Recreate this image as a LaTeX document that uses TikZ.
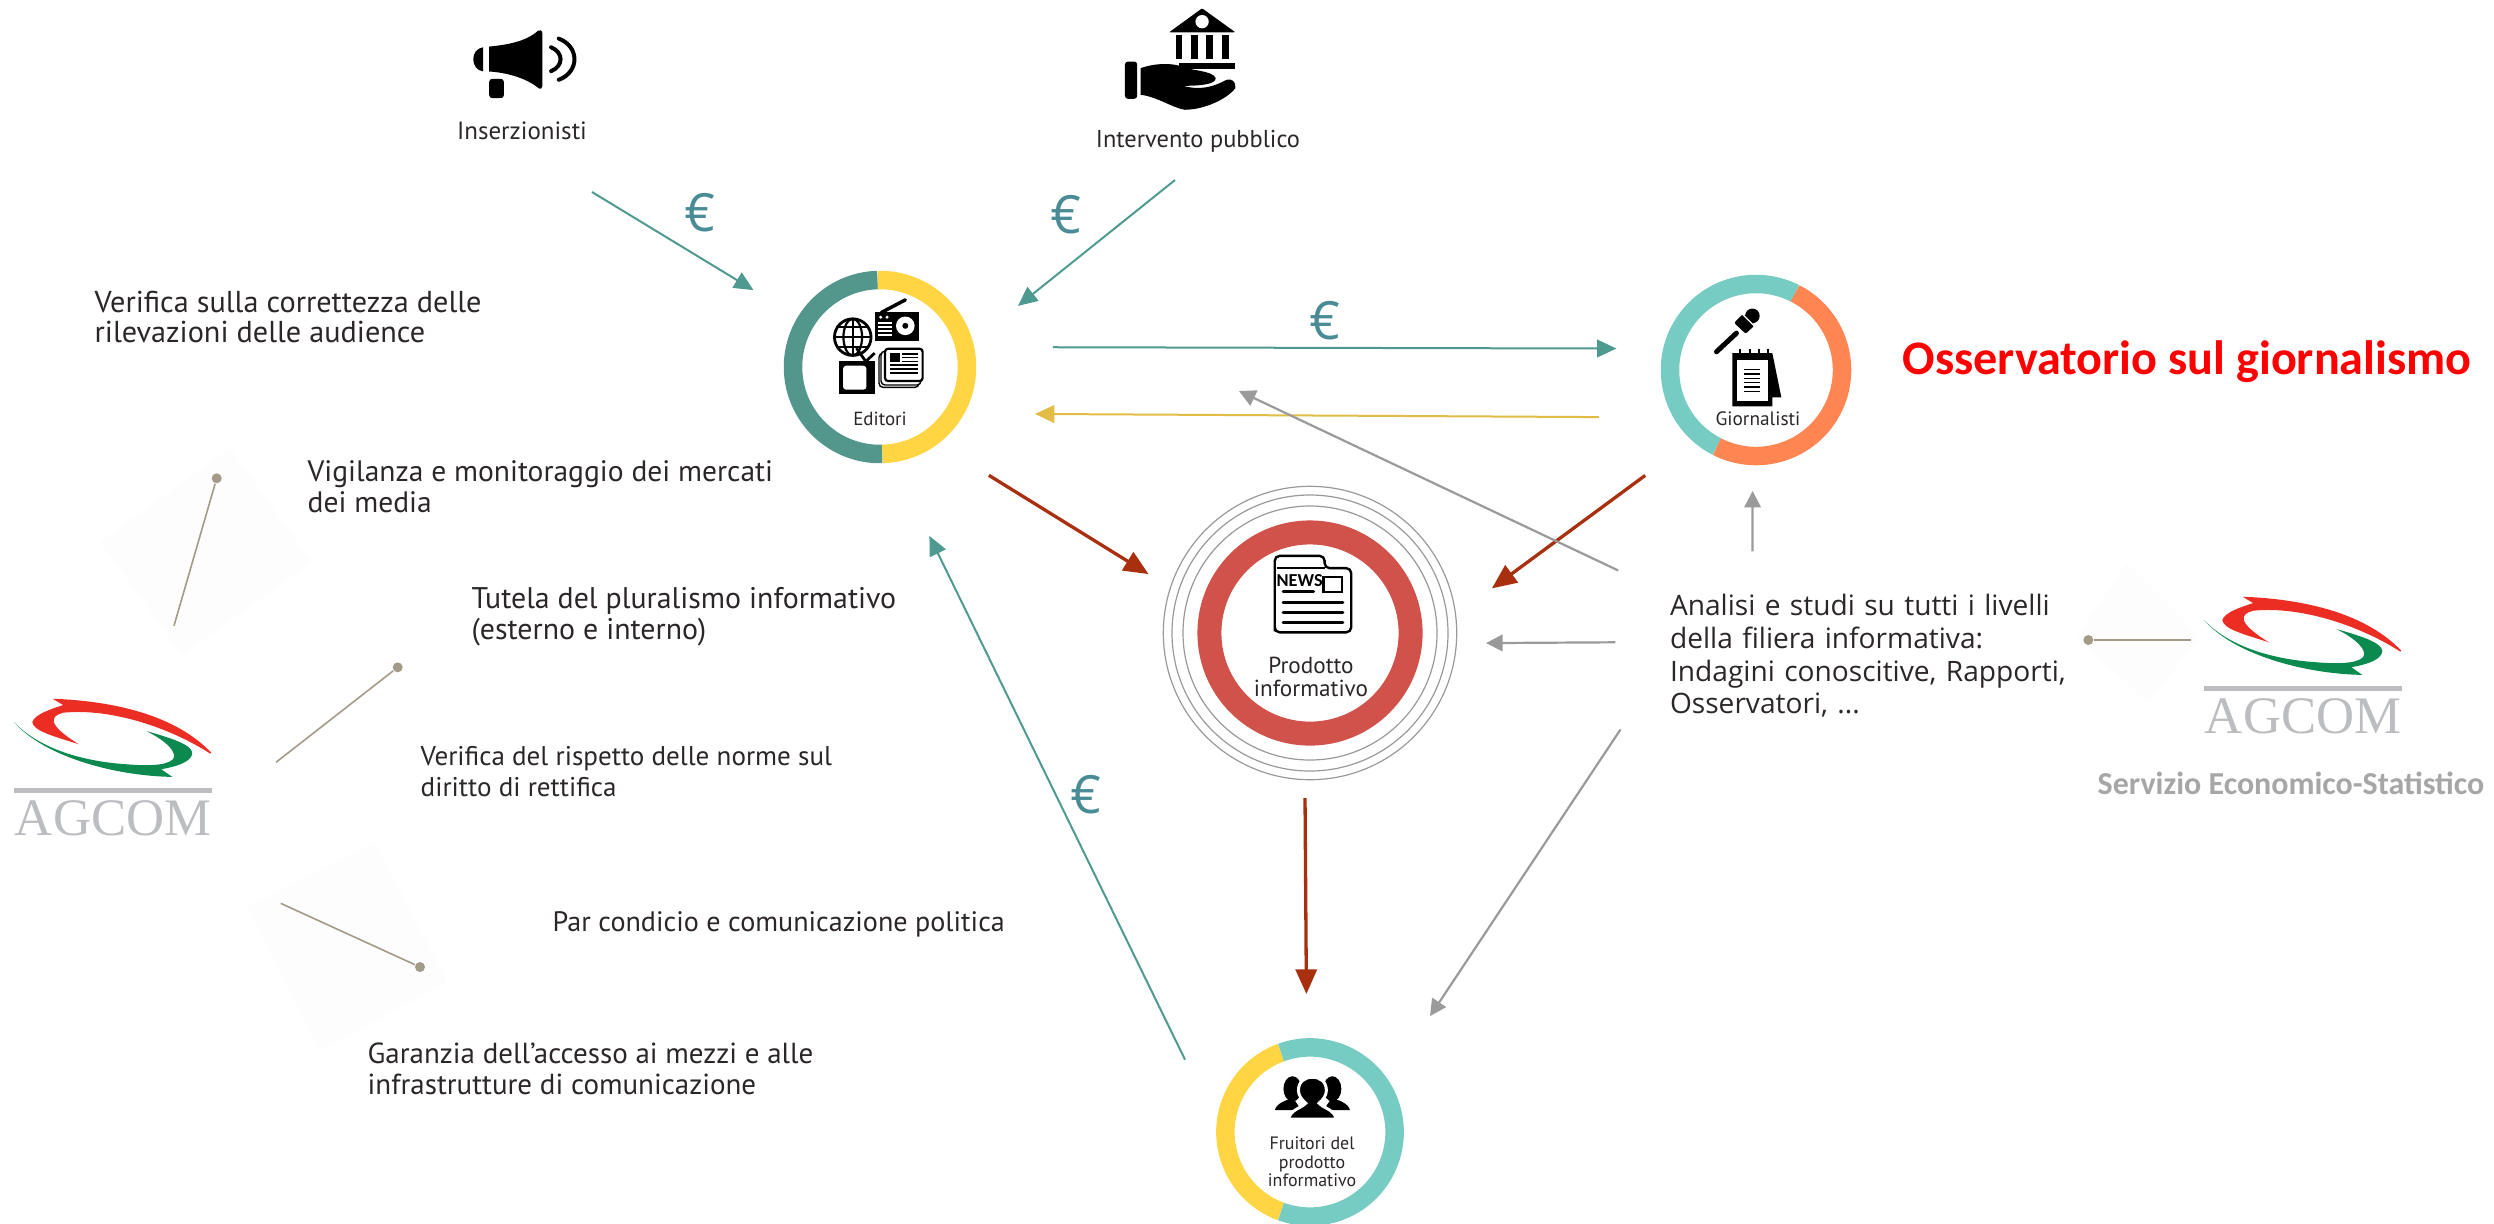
\documentclass[tikz,border=0pt]{standalone}
\usepackage{fontspec}
\usepackage{tikz}
\usetikzlibrary{arrows.meta}
\setmainfont{PT Sans}
\newfontfamily\calibrifont{Carlito}
\newfontfamily\segoefont{Open Sans}
\newfontfamily\agcomfont{Liberation Serif}

\definecolor{ringteal}{HTML}{52968C}
\definecolor{ringyellow}{HTML}{FFD544}
\definecolor{ringlight}{HTML}{76CBC2}
\definecolor{ringorange}{HTML}{FF8653}
\definecolor{ringred}{HTML}{D1524A}
\definecolor{arrowteal}{HTML}{4F9A90}
\definecolor{arrowyellow}{HTML}{E3BC45}
\definecolor{arrowred}{HTML}{A8300F}
\definecolor{arrowgray}{HTML}{9A9A9A}
\definecolor{euroblue}{HTML}{4A8C96}
\definecolor{leader}{HTML}{A39A87}
\definecolor{logogray}{HTML}{BBBDC0}
\definecolor{logored}{HTML}{EC2D24}
\definecolor{logogreen}{HTML}{0A8A4E}
\definecolor{bodytext}{HTML}{2B2628}
\definecolor{faint}{HTML}{FDFDFD}

% AGCOM logo, drawn on a 1/3 pixel grid
\tikzset{pics/agcomlogo/.style={code={
    \begin{scope}[x=0.003333cm,y=-0.003333cm]
        \fill[logored] (158,838) .. controls (350,845) and (530,890) .. (635,1000)
            -- (632,1003) .. controls (520,930) and (340,865) .. (190,880)
            .. controls (150,890) and (140,915) .. (237,975)
            .. controls (160,950) and (100,935) .. (97,908)
            .. controls (105,885) and (150,870) .. (190,857) -- cycle;
        \fill[logogreen] (42,908) .. controls (130,1010) and (340,1070) .. (518,1073)
            -- (485,1050) .. controls (540,1040) and (578,1025) .. (578,1000)
            .. controls (575,975) and (510,955) .. (440,935)
            .. controls (500,965) and (535,1000) .. (520,1020)
            .. controls (500,1040) and (440,1040) .. (380,1035)
            .. controls (230,1025) and (110,980) .. (42,908) -- cycle;
        \fill[logogray] (43,1105) rectangle (637,1120);
        \node[text=logogray,inner sep=0pt,font=\agcomfont\fontsize{15}{15}\selectfont] (-word) at (340,1197) {AGCOM};
    \end{scope}
}}}

\begin{document}
\begin{tikzpicture}
    \tikzstyle{ring}=[circle,inner sep=0pt,outer sep=0pt]
    \tikzstyle{band}=[line width=0.185cm]
    \tikzstyle{halo}=[draw=black!40,line width=0.012cm]
    \tikzstyle{tealarrow}=[-{Triangle[length=5.5pt,width=5pt]},draw=arrowteal,line width=0.02cm]
    \tikzstyle{yellowarrow}=[-{Triangle[length=5.5pt,width=5pt]},draw=arrowyellow,line width=0.02cm]
    \tikzstyle{redarrow}=[-{Triangle[length=7pt,width=6pt]},draw=arrowred,line width=0.033cm]
    \tikzstyle{grayarrow}=[-{Triangle[length=4.7pt,width=4.7pt]},draw=arrowgray,line width=0.022cm]
    \tikzstyle{euro}=[text=euroblue,inner sep=0pt,font=\segoefont\fontsize{15}{15}\selectfont]
    \tikzstyle{note}=[anchor=west,align=left,inner sep=0pt,text=bodytext]
    \tikzstyle{caption}=[align=center,inner sep=0pt,text=bodytext]
    \tikzstyle{pinhead}=[circle,fill=leader,minimum size=0.1cm,inner sep=0pt]
    \tikzstyle{pinline}=[draw=leader,line width=0.016cm]
    \tikzstyle{icon}=[x=0.003333cm,y=-0.003333cm]

    \useasboundingbox (0,0) rectangle (24.94,-12.23);

    % Draw the faint squares behind the pins
    \fill[faint] (2.30,-4.48) -- (3.12,-5.62) -- (1.82,-6.55) -- (1.00,-5.42) -- cycle;
    \fill[faint] (3.75,-8.42) -- (4.48,-9.82) -- (3.20,-10.50) -- (2.47,-9.08) -- cycle;
    \fill[faint] (21.27,-5.63) -- (22.00,-6.37) -- (21.48,-7.03) -- (20.77,-6.37) -- cycle;

    % Draw the ring nodes
    \node[ring,minimum size=1.92cm] (editori) at (8.80,-3.67) {};
    \node[ring,minimum size=1.90cm] (giornalisti) at (17.56,-3.70) {};
    \node[ring,minimum size=2.934cm] (prodotto) at (13.10,-6.33) {};
    \node[ring,minimum size=1.88cm] (fruitori) at (13.10,-11.32) {};

    \draw[band,ringteal] (editori.center) ++(91.6:0.87) arc[start angle=91.6,end angle=271.6,radius=0.87];
    \draw[band,ringyellow] (editori.center) ++(91.6:0.87) arc[start angle=91.6,end angle=-88.4,radius=0.87];
    \draw[band,ringlight] (giornalisti.center) ++(63:0.86) arc[start angle=63,end angle=243,radius=0.86];
    \draw[band,ringorange] (giornalisti.center) ++(63:0.86) arc[start angle=63,end angle=-117,radius=0.86];
    \draw[band,ringyellow] (fruitori.center) ++(110:0.846) arc[start angle=110,end angle=250,radius=0.846];
    \draw[band,ringlight] (fruitori.center) ++(110:0.846) arc[start angle=110,end angle=-110,radius=0.846];
    \draw[ringred,line width=0.24cm] (prodotto.center) circle[radius=1.006];
    \foreach \r in {1.467,1.38,1.27}
        \draw[halo] (prodotto.center) circle[radius=\r];

    % Annotate the ring nodes
    \node[caption,font=\fontsize{5.4}{6}\selectfont] (editorilabel) at (8.80,-4.19) {Editori};
    \node[caption,font=\fontsize{5.5}{6.5}\selectfont] (giornalistilabel) at (17.58,-4.19) {Giornalisti};
    \node[caption,font=\fontsize{6.6}{6.6}\selectfont] (prodottolabel) at (13.11,-6.77) {Prodotto\\informativo};
    \node[caption,font=\fontsize{5.1}{5.3}\selectfont] (fruitorilabel) at (13.12,-11.62) {Fruitori del\\prodotto\\informativo};

    % Draw the icon of the publishers
    \begin{scope}[shift={(7.40,-2.40)},icon]
        \draw[line width=0.028cm] (339,292) circle[radius=55];
        \draw[line width=0.022cm] (339,292) ellipse[x radius=28,y radius=55];
        \draw[line width=0.022cm] (339,237) -- (339,347) (287,292) -- (391,292) (296,262) -- (382,262) (296,322) -- (382,322);
        \fill (406,215) rectangle (537,303);
        \draw[line width=0.035cm,line cap=round] (425,218) -- (497,180);
        \fill[white] (497,258) circle[radius=28];
        \fill (497,258) circle[radius=9];
        \fill[white] (423,232) circle[radius=5] (442,232) circle[radius=5];
        \foreach \y in {247,259,271,283}
            \fill[white] (415,\y) rectangle (458,\y+6);
        \draw[line width=0.028cm] (350,325) -- (378,365) -- (405,340);
        \fill (298,363) rectangle (407,464);
        \fill[white,rounded corners=0.03cm] (310,378) rectangle (380,450);
        \draw[line width=0.014cm,fill=white,rounded corners=0.04cm] (418,340) rectangle (538,443);
        \draw[line width=0.014cm,fill=white,rounded corners=0.04cm] (424,334) rectangle (544,436);
        \draw[line width=0.022cm,fill=white,rounded corners=0.03cm] (436,327) rectangle (549,424);
        \fill (450,340) rectangle (481,366);
        \foreach \y in {343,354,365}
            \fill (487,\y-2) rectangle (535,\y+2);
        \foreach \y in {376,388,400}
            \fill (450,\y-2) rectangle (535,\y+2);
    \end{scope}

    % Draw the icon of the journalists
    \begin{scope}[shift={(16.20,-2.50)},icon]
        \draw[line width=0.05cm,line cap=round] (290,306) -- (350,250);
        \fill[rounded corners=0.02cm] (343,219) -- (370,192) -- (405,226) -- (378,252) -- cycle;
        \fill (398,198) circle[radius=22];
        \draw[white,line width=0.012cm] (367,192) -- (405,230);
        \fill (338,310) -- (458,310) -- (485,443) -- (458,443) -- (458,470) -- (338,470) -- cycle;
        \fill[white] (352,332) rectangle (445,455);
        \foreach \x in {362,390,418,445}
            \draw[line width=0.02cm] (\x,297) -- (\x,322);
        \foreach \y in {360,373,386,399,412,425}
            \fill (373,\y-2) rectangle (420,\y+2);
    \end{scope}

    % Draw the icon of the news product
    \begin{scope}[shift={(11.40,-4.80)},icon]
        \draw[line width=0.024cm,rounded corners=0.05cm] (405,440) -- (405,228) -- (555,228) -- (555,265) -- (635,265) -- (635,458) -- (405,458) -- cycle;
        \draw[line width=0.024cm] (412,264) -- (555,264);
        \node[inner sep=0pt,font=\calibrifont\bfseries\fontsize{5.2}{5.2}\selectfont] (newsword) at (480,301) {NEWS};
        \draw[line width=0.024cm] (552,292) rectangle (608,337);
        \draw[line width=0.03cm,line cap=round] (430,336) -- (522,336);
        \foreach \y in {367,397,428}
            \draw[line width=0.03cm,line cap=round] (430,\y) -- (610,\y);
    \end{scope}

    % Draw the icon of the audience
    \begin{scope}[shift={(11.90,-10.20)},icon]
        \foreach \m in {0,1} {
            \fill (368-60+120*\m,207) ellipse[x radius=27,y radius=38];
        }
        \fill (255,271) .. controls (260,250) and (290,240) .. (310,235) -- (335,271) -- cycle;
        \fill (481,271) .. controls (476,250) and (446,240) .. (426,235) -- (401,271) -- cycle;
        \draw[white,line width=0.03cm,fill=black] (297,298) .. controls (300,270) and (335,265) .. (348,250)
            .. controls (335,240) and (326,225) .. (326,212) .. controls (326,185) and (345,172) .. (368,172)
            .. controls (391,172) and (410,185) .. (410,212) .. controls (410,225) and (401,240) .. (388,250)
            .. controls (401,265) and (436,270) .. (439,298) -- cycle;
    \end{scope}

    % Draw the top icons and their labels
    \begin{scope}[shift={(4.40,0)},icon]
        \fill (148,140) .. controls (200,135) and (260,125) .. (295,92) .. controls (302,88) and (308,92) .. (308,100)
            -- (308,258) .. controls (308,266) and (302,270) .. (295,264) .. controls (260,235) and (200,218) .. (148,215) -- cycle;
        \fill (130,142) .. controls (110,145) and (100,160) .. (100,178) .. controls (100,196) and (110,212) .. (130,215) -- cycle;
        \fill[rounded corners=0.03cm] (148,237) rectangle (192,295);
        \draw[line width=0.04cm,line cap=round] (334,142) .. controls (372,158) and (372,198) .. (334,214);
        \draw[line width=0.04cm,line cap=round] (357,116) .. controls (420,140) and (420,216) .. (357,240);
    \end{scope}
    \node[caption,font=\fontsize{7.1}{7.6}\selectfont] (inserzionisti) at (5.22,-1.31) {Inserzionisti};

    \begin{scope}[shift={(10.90,0)},icon]
        \fill[rounded corners=0.01cm] (337,25) -- (437,97) -- (238,97) -- cycle;
        \fill[white] (337,65) circle[radius=20];
        \foreach \x in {258,305,350,397}
            \fill (\x,105) rectangle (\x+20,178);
        \fill (268,188) rectangle (435,207);
        \fill[rounded corners=0.03cm] (105,185) rectangle (142,297);
        \fill (152,205) .. controls (200,188) and (250,190) .. (275,200) .. controls (300,212) and (370,212) .. (378,235)
            .. controls (378,252) and (340,258) .. (280,258) .. controls (330,272) and (370,262) .. (410,240)
            .. controls (425,235) and (440,245) .. (437,265) .. controls (410,300) and (340,330) .. (285,330)
            .. controls (250,325) and (200,290) .. (152,285) -- cycle;
    \end{scope}
    \node[caption,font=\fontsize{6.95}{8.2}\selectfont] (intervento) at (11.98,-1.41) {Intervento pubblico};

    % Draw the text nodes
    \node[note,font=\fontsize{8.6}{8.8}\selectfont] (audience) at (0.94,-3.17) {Verifica sulla correttezza delle\\rilevazioni delle audience};
    \node[note,font=\fontsize{8.4}{8.8}\selectfont] (vigilanza) at (3.07,-4.87) {Vigilanza e monitoraggio dei mercati\\dei media};
    \node[note,font=\fontsize{8.5}{8.8}\selectfont] (tutela) at (4.71,-6.17) {Tutela del pluralismo informativo\\(esterno e interno)};
    \node[note,font=\fontsize{7.7}{8.8}\selectfont] (rettifica) at (4.20,-7.72) {Verifica del rispetto delle norme sul\\diritto di rettifica};
    \node[note,font=\fontsize{8.0}{8.8}\selectfont] (condicio) at (5.52,-9.24) {Par condicio e comunicazione politica};
    \node[note,font=\fontsize{8.25}{8.8}\selectfont] (garanzia) at (3.67,-10.69) {Garanzia dell'accesso ai mezzi e alle\\infrastrutture di comunicazione};
    \node[text width=4cm,minimum height=1.4cm,align=left,inner sep=0pt,text=bodytext,font=\segoefont\fontsize{8}{9.3}\selectfont] (analisi) at (18.70,-6.56)
        {Analisi e studi su tutti i livelli\\della filiera informativa:\\Indagini conoscitive, Rapporti,\\Osservatori, ...};
    \node[inner sep=0pt,text=red,font=\calibrifont\bfseries\fontsize{13.7}{15}\selectfont] (osservatorio) at (21.87,-3.62) {Osservatorio sul giornalismo};
    \node[inner sep=0pt,text=black!35,font=\calibrifont\bfseries\fontsize{9.1}{10.5}\selectfont] (servizio) at (22.91,-7.83) {Servizio Economico-Statistico};

    % Draw the logos
    \pic (agcomleft) at (0,-4.20) {agcomlogo};
    \pic (agcomright) at (21.90,-3.18) {agcomlogo};

    % Draw the pins
    \node[pinhead] (pinA) at (2.167,-4.783) {};
    \node[pinhead] (pinB) at (3.977,-6.673) {};
    \node[pinhead] (pinC) at (4.20,-9.67) {};
    \node[pinhead] (pinD) at (20.883,-6.40) {};
    \coordinate (footA) at (1.74,-6.257);
    \coordinate (footB) at (2.76,-7.623);
    \coordinate (footC) at (2.807,-9.033);
    \coordinate (footD) at (21.907,-6.40);
    \foreach \name in {A,B,C,D}
        \draw[pinline] (pin\name) -- (foot\name);

    % Free ends of the arrows
    \coordinate (adsout) at (5.92,-1.92);
    \coordinate (publicout) at (11.75,-1.80);
    \coordinate (abovetip) at (12.39,-3.91);

    % Money and product arrows
    \draw[tealarrow,shorten >=0.52cm] (adsout) -- (editori);
    \draw[tealarrow,shorten >=0.58cm] (publicout) -- (editori.15.6);
    \draw[tealarrow,shorten <=0.79cm,shorten >=0.47cm] (editori.12.3) -- (giornalisti.167.5);
    \draw[yellowarrow,shorten <=0.75cm,shorten >=0.71cm] (giornalisti.210.3) -- (editori.-29);
    \draw[tealarrow,shorten <=0.714cm,shorten >=0.822cm] (fruitori.175.9) -- (editori.-82.2);
    \draw[redarrow,shorten <=0.601cm,shorten >=0.258cm] (editori.-53.5) -- (prodotto.162.8);
    \draw[redarrow,shorten <=0.587cm,shorten >=0.451cm] (giornalisti.228.9) -- (prodotto.7.7);
    \draw[redarrow,shorten <=0.184cm,shorten >=0.441cm] (prodotto.268.4) -- (fruitori.92.4);

    % Connect the studies with every level of the chain
    \draw[grayarrow,shorten <=0.34cm,shorten >=0.26cm] (analisi.149.1) -- (giornalisti.268.2);
    \draw[grayarrow,shorten <=0.565cm] (analisi.163.7) -- (abovetip);
    \draw[grayarrow,shorten <=0.54cm,shorten >=0.297cm] (analisi.176.6) -- (prodotto.-4.3);
    \draw[grayarrow,shorten <=0.882cm,shorten >=0.761cm] (analisi.west) -- (fruitori.34.1);

    % Annotate the money flows
    \node[euro] (euroA) at (7.00,-2.13) {€};
    \node[euro] (euroB) at (10.66,-2.15) {€};
    \node[euro] (euroC) at (13.25,-3.21) {€};
    \node[euro] (euroD) at (10.86,-7.95) {€};
\end{tikzpicture}
\end{document}
